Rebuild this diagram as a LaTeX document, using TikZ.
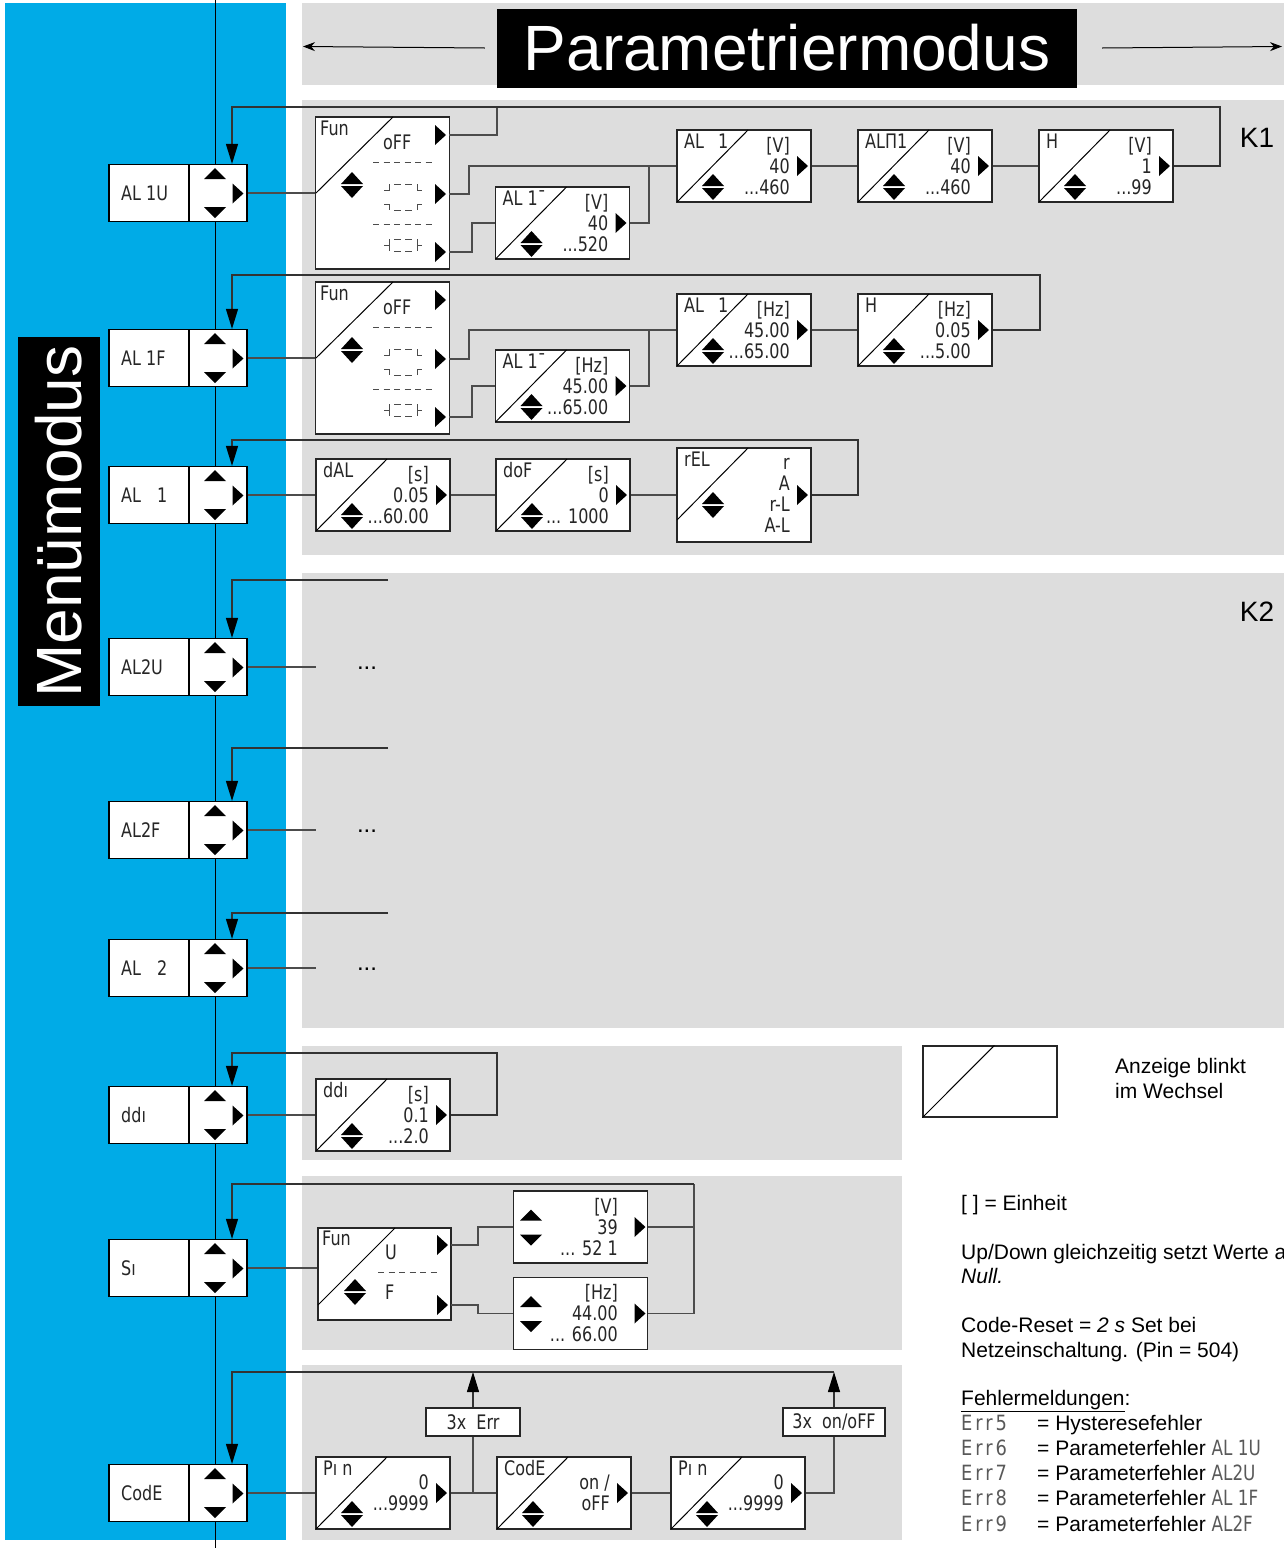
\documentclass[tikz,border=0pt]{standalone}
\usepackage{fontspec}
\setmainfont{Liberation Sans}
\newfontfamily\segfont[FakeStretch=0.8]{DejaVu Sans}
\newfontfamily\errfont[FakeStretch=0.85, LetterSpace=14]{DejaVu Sans}
\usetikzlibrary{arrows.meta, positioning, calc}
\definecolor{menublue}{RGB}{0,171,231}
\definecolor{panelgray}{RGB}{221,221,221}

% small filled triangles
\newcommand\rtri[2]{\fill (#1-5.5,#2-10) -- (#1+5.5,#2) -- (#1-5.5,#2+10) -- cycle;}
\newcommand\uptri[2]{\fill (#1-11,#2+5.5) -- (#1+11,#2+5.5) -- (#1,#2-5.5) -- cycle;}
\newcommand\dntri[2]{\fill (#1-11,#2-5.5) -- (#1+11,#2-5.5) -- (#1,#2+5.5) -- cycle;}
\newcommand\updn[2]{\fill (#1-11,#2-1) -- (#1+11,#2-1) -- (#1,#2-13) -- cycle
  (#1-11,#2+1) -- (#1+11,#2+1) -- (#1,#2+13) -- cycle;}

% segment icons in the Fun boxes
\newcommand\winicon[1]{\draw[icon] (384,#1-7) -- (389,#1-7) -- (389,#1-13)
  (394,#1-13) -- (401,#1-13) (405,#1-13) -- (412,#1-13) (417,#1-13) -- (417,#1-7) -- (422,#1-7)
  (384,#1+7) -- (389,#1+7) -- (389,#1+13) (394,#1+13) -- (401,#1+13)
  (405,#1+13) -- (412,#1+13) (417,#1+13) -- (417,#1+7) -- (422,#1+7);}
\newcommand\hysicon[1]{\draw[icon] (384,#1) -- (389,#1) (389,#1-6) -- (389,#1+6)
  (394,#1-6) -- (401,#1-6) (405,#1-6) -- (412,#1-6) (394,#1+6) -- (401,#1+6)
  (405,#1+6) -- (412,#1+6) (417,#1-6) -- (417,#1+6) (417,#1) -- (422,#1);}

% menu box: name, y, label
\newcommand\menubox[3]{%
  \node[menu] (#1) at (178,#2) {};
  \draw[line width=1.2pt] (189,#2-28.5) -- (189,#2+28.5);
  \node[seg, anchor=base west] at (121,#2+7) {#3};
  \uptri{215}{#2-19.5} \dntri{215}{#2+19.5} \rtri{238}{#2+0.5}}

% display box: [height], name, x, y, label, right text
\newcommand\valbox[6][72]{%
  \node[disp, minimum height=#1] (#2) at (#3,#4) {};
  \draw[diag] (#3-67,#4-#1/2+72) -- (#3+4,#4-#1/2);
  \node[seg, anchor=base west] at (#3-60,#4-#1/2+18) {#5};
  \node[seg, anchor=east, align=right] at (#3+46,#4) {#6};
  \rtri{#3+58.5}{#4}
  \updn{#3-31}{#4-#1/2+57}}

% selection box without label: name, x, y, right text
\newcommand\selbox[4]{%
  \node[disp] (#1) at (#2,#3) {};
  \node[seg, anchor=east, align=right] at (#2+37.5,#3) {#4};
  \uptri{#2-49.5}{#3-12} \dntri{#2-49.5}{#3+13}
  \rtri{#2+59.5}{#3}}

% Fun box with three outputs: name, top
\newcommand\funbox[2]{%
  \node[disp, minimum height=152] (#1) at (382.5,#2+76) {};
  \draw[diag] (316,#2+76) -- (393,#2);
  \node[seg, anchor=base west] at (320,#2+18) {Fun};
  \node[seg, anchor=base west] at (383,#2+32) {oFF};
  \draw[dashes] (373,#2+45) -- (434,#2+45);
  \draw[dashes] (373,#2+107) -- (434,#2+107);
  \winicon{#2+80} \hysicon{#2+128}
  \updn{352}{#2+68}
  \rtri{440.5}{#2+18} \rtri{440.5}{#2+77} \rtri{440.5}{#2+135}
  \coordinate (#1-o1) at (449,#2+18);
  \coordinate (#1-o2) at (449,#2+77);
  \coordinate (#1-o3) at (449,#2+135);}

\begin{document}
\begin{tikzpicture}[x=1pt, y=-1pt,
    menu/.style={rectangle, draw=black, line width=1.2pt, fill=white, minimum width=138, minimum height=57, inner sep=0},
    disp/.style={rectangle, draw=black!85, line width=1.2pt, fill=white, minimum width=134, minimum height=72, inner sep=0},
    seg/.style={font=\segfont\fontsize{20}{21}\selectfont, text=black!85, inner sep=0},
    conn/.style={draw=black!70, line width=1.1pt},
    flow/.style={draw=black!80, line width=1.1pt, -{Triangle[length=20pt,width=12pt,color=black]}},
    diag/.style={line width=1pt},
    dashes/.style={draw=black!70, line width=1pt, dash pattern=on 6pt off 4.5pt},
    icon/.style={draw=black!70, line width=1pt},
    note/.style={font=\fontsize{21}{25}\selectfont, anchor=base west, inner sep=0},
    errcode/.style={font=\errfont\fontsize{21}{25}\selectfont, text=black!65, anchor=base west, inner sep=0},
    dots/.style={font=\fontsize{24}{24}\selectfont, inner sep=0},
    titlearr/.style={line width=1pt, -{Stealth[length=12pt,width=9pt]}}
]
\useasboundingbox (0,0) rectangle (1284,1548);

% background areas
\fill[menublue] (5,3) rectangle (286,1540);
\fill[panelgray] (302,3) rectangle (1284,85);
\fill[panelgray] (302,100) rectangle (1284,555);
\fill[panelgray] (302,573) rectangle (1284,1028);
\fill[panelgray] (302,1046) rectangle (902,1160);
\fill[panelgray] (302,1176) rectangle (902,1350);
\fill[panelgray] (302,1365) rectangle (902,1540);

% titles
\node[fill=black, text=white, minimum width=580, minimum height=79, inner sep=0, font=\fontsize{64}{64}\selectfont] (title) at (787,48) {Parametriermodus};
\coordinate (tl) at (303,46.5);
\coordinate (tr) at (1282,46.5);
\draw[titlearr] ([xshift=-12pt]title.west) -- (tl);
\draw[titlearr] ([xshift=25pt]title.east) -- (tr);
\node[fill=black, text=white, rotate=90, minimum width=369, minimum height=82, inner sep=0, font=\fontsize{64}{64}\selectfont] (mmode) at (59,521.5) {Menümodus};
\node[font=\fontsize{28}{28}\selectfont] (k1) at (1257,138) {K1};
\node[font=\fontsize{28}{28}\selectfont] (k2) at (1257,612) {K2};

% main menu line
\coordinate (vtop) at (215,0);
\coordinate (vbot) at (215,1548);
\draw[line width=1pt] (vtop) -- (vbot);

\menubox{al1u}{193}{AL 1U}
\menubox{al1f}{358}{AL 1F}
\menubox{al1}{495}{AL\hspace{16pt}1}
\menubox{al2u}{667}{AL2U}
\menubox{al2f}{830}{AL2F}
\menubox{al2}{968}{AL\hspace{16pt}2}
\menubox{ddi}{1115}{ddı}
\menubox{si}{1268}{Sı}
\menubox{code}{1493}{CodE}

% K1, AL 1U
\funbox{fun1}{117}
\valbox{al1m}{562.5}{223}{AL 1¯}{[V]\\40\\...520}
\valbox{al1a}{744}{166}{AL\hspace{14pt}1}{[V]\\40\\...460}
\valbox{aln1}{925}{166}{ALΠ1}{[V]\\40\\...460}
\valbox{h1}{1106}{166}{H}{[V]\\1\\...99}
\coordinate (l1) at (232,107);
\coordinate (r1) at (1220,107);
\coordinate (j1) at (497,107);
\coordinate (j2) at (649,166);
\draw[conn] (al1u.east) -- (fun1.west);
\draw[conn] (fun1-o1) -| (j1);
\draw[conn] (fun1-o2) -- ++(20,0) |- (al1a.west);
\draw[conn] (fun1-o3) -- ++(23,0) |- (al1m.west);
\draw[conn] (al1m.east) -| (j2);
\draw[conn] (al1a.east) -- (aln1.west);
\draw[conn] (aln1.east) -- (h1.west);
\draw[flow] (h1.east) -| (r1) -- (l1) -- (l1 |- al1u.north);

% K1, AL 1F
\funbox{fun2}{282}
\valbox{al2m}{562.5}{386}{AL 1¯}{[Hz]\\45.00\\...65.00}
\valbox{al2a}{744}{330}{AL\hspace{14pt}1}{[Hz]\\45.00\\...65.00}
\valbox{h2}{925}{330}{H}{[Hz]\\0.05\\...5.00}
\coordinate (l2) at (232,275);
\coordinate (r2) at (1040,275);
\coordinate (j4) at (649,330);
\draw[conn] (al1f.east) -- (fun2.west);
\draw[conn] (fun2-o2) -- ++(20,0) |- (al2a.west);
\draw[conn] (fun2-o3) -- ++(23,0) |- (al2m.west);
\draw[conn] (al2m.east) -| (j4);
\draw[conn] (al2a.east) -- (h2.west);
\draw[flow] (h2.east) -| (r2) -- (l2) -- (l2 |- al1f.north);

% K1, AL 1
\valbox{dal}{383}{495}{dAL}{[s]\\0.05\\...60.00}
\valbox{dof}{563}{495}{doF}{[s]\\0\\... 1000}
\valbox[94]{rel}{744}{495}{rEL}{r\\A\\r-L\\A-L}
\coordinate (l3) at (232,440);
\coordinate (r3) at (858,440);
\draw[conn] (al1.east) -- (dal.west);
\draw[conn] (dal.east) -- (dof.west);
\draw[conn] (dof.east) -- (rel.west);
\draw[flow] (rel.east) -| (r3) -- (l3) -- (l3 |- al1.north);

% K2
\coordinate (l4) at (232,580);
\coordinate (e4) at (388,580);
\coordinate (s4) at (316,667);
\node[dots] (dots4) at (367,668) {...};
\draw[flow] (e4) -- (l4) -- (l4 |- al2u.north);
\draw[conn] (al2u.east) -- (s4);
\coordinate (l5) at (232,748);
\coordinate (e5) at (388,748);
\coordinate (s5) at (316,830);
\node[dots] (dots5) at (367,831) {...};
\draw[flow] (e5) -- (l5) -- (l5 |- al2f.north);
\draw[conn] (al2f.east) -- (s5);
\coordinate (l6) at (232,913);
\coordinate (e6) at (388,913);
\coordinate (s6) at (316,968);
\node[dots] (dots6) at (367,969) {...};
\draw[flow] (e6) -- (l6) -- (l6 |- al2.north);
\draw[conn] (al2.east) -- (s6);

% ddi
\valbox{ddibox}{383}{1115}{ddı}{[s]\\0.1\\...2.0}
\coordinate (l7) at (232,1053);
\coordinate (r7) at (497,1053);
\draw[conn] (ddi.east) -- (ddibox.west);
\draw[flow] (ddibox.east) -| (r7) -- (l7) -- (l7 |- ddi.north);

% Si
\node[disp, minimum width=133, minimum height=92] (sifun) at (384.5,1274) {};
\draw[diag] (318,1305) -- (395,1228);
\node[seg, anchor=base west] at (322,1245) {Fun};
\node[seg, anchor=base west] at (385,1259) {U};
\node[seg, anchor=base west] at (385,1299) {F};
\draw[dashes] (378,1272) -- (437,1272);
\updn{355}{1292}
\rtri{442.5}{1245} \rtri{442.5}{1305}
\coordinate (sio1) at (451,1245);
\coordinate (sio2) at (451,1305);
\selbox{siv}{580.5}{1227}{[V]\\39\\... 52 1}
\selbox{sihz}{580.5}{1313.5}{[Hz]\\44.00\\... 66.00}
\coordinate (l8) at (232,1184);
\coordinate (r8) at (694,1184);
\draw[conn] (si.east) -- (si.east -| sifun.west);
\draw[conn] (sio1) -- ++(27,0) |- (siv.west);
\draw[conn] (sio2) -- ++(27,0) |- (sihz.west);
\draw[conn] (siv.east) -- (siv.east -| r8);
\draw[conn] (sihz.east) -| (r8);
\draw[flow] (r8) -- (l8) -- (l8 |- si.north);

% CodE
\valbox{pin1}{383}{1493}{Pı n}{0\\...9999}
\valbox{cde}{564}{1493}{CodE}{on /\\oFF\hspace{8pt}}
\valbox{pin2}{738}{1493}{Pı n}{0\\...9999}
\node[disp, seg, minimum width=94, minimum height=28] (errbox) at (473,1422) {3x~~Err};
\node[disp, seg, minimum width=102, minimum height=28] (onbox) at (834,1422) {3x~~on/oFF};
\coordinate (l9) at (232,1372);
\coordinate (r9) at (834,1372);
\draw[conn] (code.east) -- (pin1.west);
\draw[conn] (pin1.east) -- (cde.west);
\draw[conn] (pin1.east -| errbox.south) -- (errbox.south);
\draw[flow] (errbox.north) -- (errbox.north |- l9);
\draw[conn] (cde.east) -- (pin2.west);
\draw[conn] (pin2.east) -| (onbox.south);
\draw[flow] (onbox.north) -- (r9);
\draw[flow] (r9) -- (l9) -- (l9 |- code.north);

% legend
\node[disp, minimum width=134, minimum height=71] (legbox) at (990,1081.5) {};
\draw[diag] (legbox.south west) -- ($(legbox.north west)+(72,0)$);
\node[note] (leg1) at (1115,1073) {Anzeige blinkt};
\node[note] (leg2) at (1115,1098) {im Wechsel};
\node[note] (unit) at (961,1210) {[ ] = Einheit};
\node[note] (upd1) at (961,1259) {Up/Down gleichzeitig setzt Werte a};
\node[note] (upd2) at (961,1283) {\textit{Null.}};
\node[note] (rst1) at (961,1332) {Code-Reset = \textit{2 s} Set bei};
\node[note] (rst2) at (961,1357) {Netzeinschaltung. (Pin = 504)};
\node[note] (fhead) at (961,1405) {\underline{Fehlermeldungen}:};
\node[errcode] (e5) at (961,1430) {Err5};
\node[note] (t5) at (1037,1430) {= Hysteresefehler};
\node[errcode] (e6) at (961,1455) {Err6};
\node[note] (t6) at (1037,1455) {= Parameterfehler {\segfont\color{black!65}AL 1U}};
\node[errcode] (e7) at (961,1480) {Err7};
\node[note] (t7) at (1037,1480) {= Parameterfehler {\segfont\color{black!65}AL2U}};
\node[errcode] (e8) at (961,1505) {Err8};
\node[note] (t8) at (1037,1505) {= Parameterfehler {\segfont\color{black!65}AL 1F}};
\node[errcode] (e9) at (961,1531) {Err9};
\node[note] (t9) at (1037,1531) {= Parameterfehler {\segfont\color{black!65}AL2F}};
\end{tikzpicture}
\end{document}
